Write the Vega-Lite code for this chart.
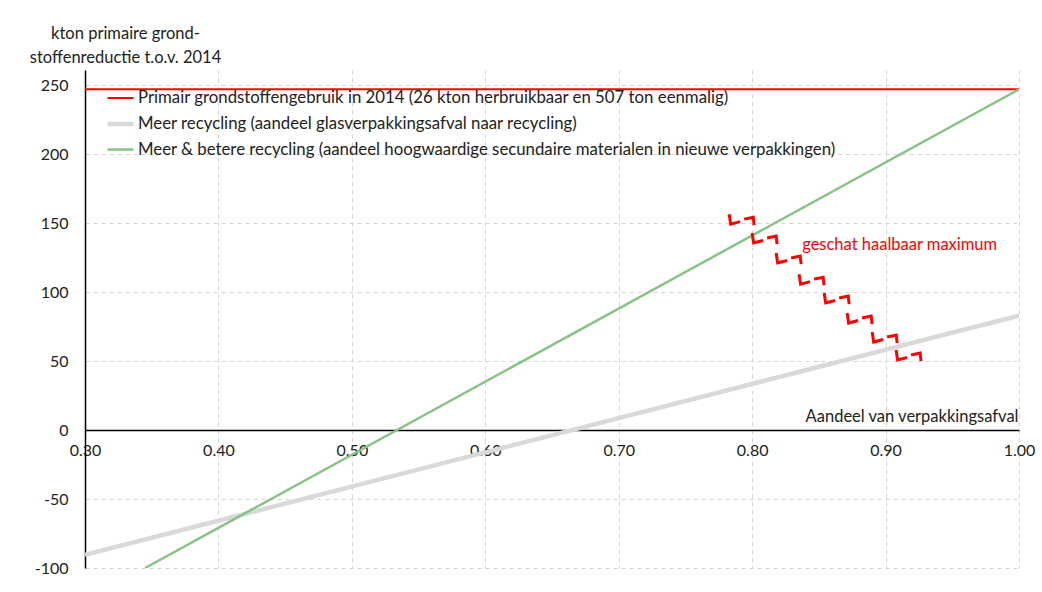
{
  "$schema": "https://vega.github.io/schema/vega-lite/v6.json",
  "width": 934,
  "height": 498,
  "autosize": {"type": "none"},
  "padding": {"left": 85, "top": 70, "right": 23, "bottom": 24},
  "background": "white",
  "config": {"view": {"stroke": null}, "font": "Lato"},
  "datasets": {
    "lines": [
      {"reeks": "Primair grondstoffengebruik in 2014 (26 kton herbruikbaar en 507 ton eenmalig)", "aandeel": 0.30, "kton": 247},
      {"reeks": "Primair grondstoffengebruik in 2014 (26 kton herbruikbaar en 507 ton eenmalig)", "aandeel": 1.00, "kton": 247},
      {"reeks": "Meer recycling (aandeel glasverpakkingsafval naar recycling)", "aandeel": 0.30, "kton": -90.5},
      {"reeks": "Meer recycling (aandeel glasverpakkingsafval naar recycling)", "aandeel": 1.00, "kton": 83},
      {"reeks": "Meer & betere recycling (aandeel hoogwaardige secundaire materialen in nieuwe verpakkingen)", "aandeel": 0.345, "kton": -100},
      {"reeks": "Meer & betere recycling (aandeel hoogwaardige secundaire materialen in nieuwe verpakkingen)", "aandeel": 1.00, "kton": 247}
    ],
    "zig": [
      {"stuk": "1L", "punt": 1, "aandeel": 0.7828, "kton": 156.5},
      {"stuk": "1L", "punt": 2, "aandeel": 0.7839, "kton": 149.3},
      {"stuk": "1L", "punt": 3, "aandeel": 0.7910, "kton": 151.1},
      {"stuk": "1R", "punt": 1, "aandeel": 0.7940, "kton": 152.9},
      {"stuk": "1R", "punt": 2, "aandeel": 0.8008, "kton": 154.3},
      {"stuk": "1R", "punt": 3, "aandeel": 0.8015, "kton": 148.5},
      {"stuk": "2L", "punt": 1, "aandeel": 0.8000, "kton": 142.8},
      {"stuk": "2L", "punt": 2, "aandeel": 0.8011, "kton": 135.6},
      {"stuk": "2L", "punt": 3, "aandeel": 0.8082, "kton": 137.4},
      {"stuk": "2R", "punt": 1, "aandeel": 0.8112, "kton": 139.2},
      {"stuk": "2R", "punt": 2, "aandeel": 0.8180, "kton": 140.6},
      {"stuk": "2R", "punt": 3, "aandeel": 0.8187, "kton": 134.8},
      {"stuk": "3L", "punt": 1, "aandeel": 0.8180, "kton": 128.3},
      {"stuk": "3L", "punt": 2, "aandeel": 0.8191, "kton": 121.1},
      {"stuk": "3L", "punt": 3, "aandeel": 0.8262, "kton": 122.9},
      {"stuk": "3R", "punt": 1, "aandeel": 0.8292, "kton": 124.7},
      {"stuk": "3R", "punt": 2, "aandeel": 0.8360, "kton": 126.1},
      {"stuk": "3R", "punt": 3, "aandeel": 0.8367, "kton": 120.3},
      {"stuk": "4L", "punt": 1, "aandeel": 0.8352, "kton": 113.0},
      {"stuk": "4L", "punt": 2, "aandeel": 0.8363, "kton": 105.8},
      {"stuk": "4L", "punt": 3, "aandeel": 0.8434, "kton": 107.6},
      {"stuk": "4R", "punt": 1, "aandeel": 0.8464, "kton": 109.4},
      {"stuk": "4R", "punt": 2, "aandeel": 0.8532, "kton": 110.8},
      {"stuk": "4R", "punt": 3, "aandeel": 0.8539, "kton": 105.0},
      {"stuk": "5L", "punt": 1, "aandeel": 0.8540, "kton": 99.3},
      {"stuk": "5L", "punt": 2, "aandeel": 0.8551, "kton": 92.1},
      {"stuk": "5L", "punt": 3, "aandeel": 0.8622, "kton": 93.9},
      {"stuk": "5R", "punt": 1, "aandeel": 0.8652, "kton": 95.7},
      {"stuk": "5R", "punt": 2, "aandeel": 0.8720, "kton": 97.1},
      {"stuk": "5R", "punt": 3, "aandeel": 0.8727, "kton": 91.3},
      {"stuk": "6L", "punt": 1, "aandeel": 0.8712, "kton": 84.8},
      {"stuk": "6L", "punt": 2, "aandeel": 0.8723, "kton": 77.6},
      {"stuk": "6L", "punt": 3, "aandeel": 0.8794, "kton": 79.4},
      {"stuk": "6R", "punt": 1, "aandeel": 0.8824, "kton": 81.2},
      {"stuk": "6R", "punt": 2, "aandeel": 0.8892, "kton": 82.6},
      {"stuk": "6R", "punt": 3, "aandeel": 0.8899, "kton": 76.8},
      {"stuk": "7L", "punt": 1, "aandeel": 0.8900, "kton": 71.0},
      {"stuk": "7L", "punt": 2, "aandeel": 0.8911, "kton": 63.8},
      {"stuk": "7L", "punt": 3, "aandeel": 0.8982, "kton": 65.6},
      {"stuk": "7R", "punt": 1, "aandeel": 0.9012, "kton": 67.4},
      {"stuk": "7R", "punt": 2, "aandeel": 0.9080, "kton": 68.8},
      {"stuk": "7R", "punt": 3, "aandeel": 0.9087, "kton": 63.0},
      {"stuk": "8L", "punt": 1, "aandeel": 0.9079, "kton": 58.0},
      {"stuk": "8L", "punt": 2, "aandeel": 0.9090, "kton": 50.8},
      {"stuk": "8L", "punt": 3, "aandeel": 0.9161, "kton": 52.6},
      {"stuk": "8R", "punt": 1, "aandeel": 0.9191, "kton": 54.4},
      {"stuk": "8R", "punt": 2, "aandeel": 0.9259, "kton": 55.8},
      {"stuk": "8R", "punt": 3, "aandeel": 0.9266, "kton": 50.0}
    ],
    "note": [
      {"aandeel": 0.8375, "kton": 134, "tekst": "geschat haalbaar maximum"}
    ]
  },
  "layer": [
    {
      "data": {"name": "lines"},
      "mark": {"type": "line", "clip": true, "strokeCap": "butt"},
      "encoding": {
        "x": {
          "field": "aandeel", "type": "quantitative",
          "scale": {"domain": [0.3, 1.0], "nice": false, "zero": false},
          "axis": {
            "orient": "bottom", "offset": -138,
            "values": [0.3, 0.4, 0.5, 0.6, 0.7, 0.8, 0.9, 1.0], "format": ".2f",
            "labelFontSize": 16, "labelColor": "#222222", "labelPadding": 12, "labelFlush": false, "labelOverlap": false, "labelBound": false,
            "ticks": false, "domainColor": "#000000", "domainWidth": 1.5,
            "grid": true, "gridDash": [4, 4], "gridColor": "#d4d4d4", "gridWidth": 1,
            "title": "Aandeel van verpakkingsafval", "titleX": 933, "titleY": -6,
            "titleAlign": "right", "titleAnchor": null, "titleBaseline": "bottom",
            "titleFontWeight": "normal", "titleFontSize": 16.5, "titleColor": "#222222"
          }
        },
        "y": {
          "field": "kton", "type": "quantitative",
          "scale": {"domain": [-100, 261], "nice": false, "zero": false},
          "axis": {
            "values": [-100, -50, 0, 50, 100, 150, 200, 250],
            "labelExpr": "replace(datum.label, '\u2212', '-')",
            "labelFontSize": 16, "labelColor": "#222222", "labelPadding": 17,
            "ticks": false, "domainColor": "#000000", "domainWidth": 1.5,
            "grid": true, "gridDash": [4, 4], "gridColor": "#d4d4d4", "gridWidth": 1,
            "title": ["kton primaire grond-", "stoffenreductie t.o.v. 2014"],
            "titleAngle": 0, "titleX": 40, "titleY": -45, "titleAlign": "center", "titleAnchor": null,
            "titleBaseline": "top", "titleLineHeight": 24,
            "titleFontWeight": "normal", "titleFontSize": 16.5, "titleColor": "#222222"
          }
        },
        "color": {
          "field": "reeks", "type": "nominal",
          "scale": {
            "domain": [
              "Primair grondstoffengebruik in 2014 (26 kton herbruikbaar en 507 ton eenmalig)",
              "Meer recycling (aandeel glasverpakkingsafval naar recycling)",
              "Meer & betere recycling (aandeel hoogwaardige secundaire materialen in nieuwe verpakkingen)"
            ],
            "range": ["#ff0000", "#d9d9d9", "#88c488"]
          },
          "legend": {
            "orient": "none", "legendX": 20, "legendY": 14, "title": null,
            "symbolType": "stroke", "symbolSize": 676, "labelFontSize": 16.8, "labelColor": "#222222",
            "labelOffset": 2, "rowPadding": 1.5, "padding": 0, "labelLimit": 900
          }
        },
        "strokeWidth": {
          "field": "reeks", "type": "nominal",
          "scale": {
            "type": "ordinal",
            "domain": [
              "Primair grondstoffengebruik in 2014 (26 kton herbruikbaar en 507 ton eenmalig)",
              "Meer recycling (aandeel glasverpakkingsafval naar recycling)",
              "Meer & betere recycling (aandeel hoogwaardige secundaire materialen in nieuwe verpakkingen)"
            ],
            "range": [2, 4.5, 2.5]
          },
          "legend": {
            "orient": "none", "legendX": 20, "legendY": 14, "title": null,
            "symbolType": "stroke", "symbolSize": 676, "labelFontSize": 16.8, "labelColor": "#222222",
            "labelOffset": 2, "rowPadding": 1.5, "padding": 0, "labelLimit": 900
          }
        },
        "order": {"field": "aandeel", "type": "quantitative"}
      }
    },
    {
      "data": {"name": "zig"},
      "mark": {"type": "line", "color": "#ff0000", "strokeWidth": 3, "strokeJoin": "miter"},
      "encoding": {
        "x": {"field": "aandeel", "type": "quantitative"},
        "y": {"field": "kton", "type": "quantitative"},
        "detail": {"field": "stuk", "type": "nominal"},
        "order": {"field": "punt", "type": "quantitative"}
      }
    },
    {
      "data": {"name": "note"},
      "mark": {"type": "text", "color": "#ff0000", "fontSize": 16.5, "align": "left", "baseline": "middle"},
      "encoding": {
        "x": {"field": "aandeel", "type": "quantitative"},
        "y": {"field": "kton", "type": "quantitative"},
        "text": {"field": "tekst"}
      }
    }
  ]
}
